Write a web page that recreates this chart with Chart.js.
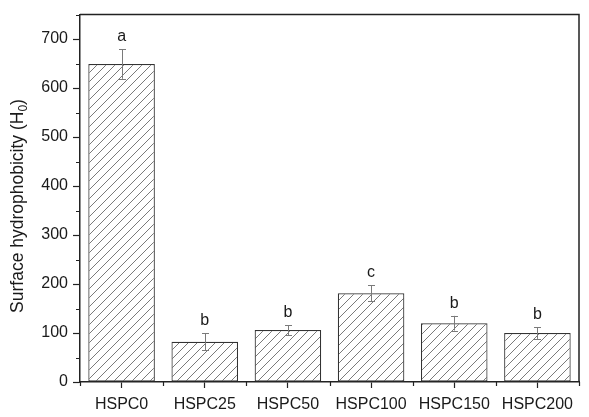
<!DOCTYPE html>
<html><head><meta charset="utf-8">
<script src="https://cdn.jsdelivr.net/npm/chart.js@4/dist/chart.umd.min.js"></script>
<style>html,body{margin:0;padding:0;background:#fff}#wrap{width:589px;height:417px}</style>
</head><body><div id="wrap"><canvas id="c" width="589" height="417"></canvas></div>
<script>
const categories = ['HSPC0', 'HSPC25', 'HSPC50', 'HSPC100', 'HSPC150', 'HSPC200'];
const values = [649, 82, 106, 181, 120, 100];
const errors = [30, 17.5, 10, 16.5, 15, 12];
const letters = ['a', 'b', 'b', 'c', 'b', 'b'];
const yTickValues = [0, 100, 200, 300, 400, 500, 600, 700];
const yMinorValues = [50, 150, 250, 350, 450, 550, 650, 750];
const yTitleMain = 'Surface hydrophobicity (H';
const yTitleSub = '0';
const yTitleEnd = ')';

const FONT = '"Liberation Sans", Arial, Helvetica, sans-serif';
const TEXT = '#1a1a1a';

function makeHatch() {
  const s = 9;
  const t = document.createElement('canvas');
  t.width = s; t.height = s;
  const g = t.getContext('2d');
  g.fillStyle = '#ffffff';
  g.fillRect(0, 0, s, s);
  g.strokeStyle = '#7a7a7a';
  g.lineWidth = 1;
  g.beginPath();
  g.moveTo(-1, s + 1); g.lineTo(s + 1, -1);
  g.moveTo(-2, 2); g.lineTo(2, -2);
  g.moveTo(s - 2, s + 2); g.lineTo(s + 2, s - 2);
  g.stroke();
  return g.createPattern(t, 'repeat');
}

const extras = {
  id: 'extras',
  afterDatasetsDraw(chart) {
    const ctx = chart.ctx;
    const y = chart.scales.y;
    const meta = chart.getDatasetMeta(0);
    ctx.save();
    ctx.strokeStyle = '#7a7a7a';
    ctx.lineWidth = 1;
    meta.data.forEach((bar, i) => {
      const cx = Math.round(bar.x) + 0.5;
      const yt = y.getPixelForValue(values[i] + errors[i]);
      const yb = y.getPixelForValue(values[i] - errors[i]);
      ctx.beginPath();
      ctx.moveTo(cx, yt); ctx.lineTo(cx, yb);
      ctx.moveTo(cx - 3.5, Math.round(yt) + 0.5); ctx.lineTo(cx + 3.5, Math.round(yt) + 0.5);
      ctx.moveTo(cx - 3.5, Math.round(yb) + 0.5); ctx.lineTo(cx + 3.5, Math.round(yb) + 0.5);
      ctx.stroke();
      ctx.fillStyle = TEXT;
      ctx.font = '16px ' + FONT;
      ctx.textAlign = 'center';
      ctx.textBaseline = 'alphabetic';
      ctx.fillText(letters[i], bar.x, yt - 8);
    });
    ctx.restore();
  },
  afterDraw(chart) {
    const ctx = chart.ctx;
    const a = chart.chartArea;
    const y = chart.scales.y;
    ctx.save();
    ctx.strokeStyle = '#222';
    ctx.lineWidth = 1.5;
    ctx.beginPath();
    ctx.moveTo(a.left, a.top); ctx.lineTo(a.right, a.top); ctx.lineTo(a.right, a.bottom);
    ctx.stroke();
    ctx.lineWidth = 1.2;
    ctx.beginPath();
    yMinorValues.forEach(v => {
      const py = Math.round(y.getPixelForValue(v)) + 0.5;
      ctx.moveTo(a.left - 4, py); ctx.lineTo(a.left, py);
    });
    for (let i = 0; i <= categories.length; i++) {
      const px = Math.round(a.left + (a.right - a.left) * i / categories.length) + 0.5;
      ctx.moveTo(px, a.bottom); ctx.lineTo(px, a.bottom + 4);
    }
    ctx.stroke();
    ctx.fillStyle = TEXT;
    ctx.translate(23, 206);
    ctx.rotate(-Math.PI / 2);
    const big = '17.5px ' + FONT, small = '12px ' + FONT;
    ctx.font = big;
    const w1 = ctx.measureText(yTitleMain).width;
    const w3 = ctx.measureText(yTitleEnd).width;
    ctx.font = small;
    const w2 = ctx.measureText(yTitleSub).width;
    let px = -(w1 + w2 + w3) / 2;
    ctx.textAlign = 'left';
    ctx.textBaseline = 'alphabetic';
    ctx.font = big;
    ctx.fillText(yTitleMain, px, 0); px += w1;
    ctx.font = small;
    ctx.fillText(yTitleSub, px, 4); px += w2;
    ctx.font = big;
    ctx.fillText(yTitleEnd, px, 0);
    ctx.restore();
  }
};

new Chart(document.getElementById('c'), {
  type: 'bar',
  data: {
    labels: categories,
    datasets: [{
      data: values,
      backgroundColor: makeHatch(),
      borderColor: '#333333',
      borderWidth: 1.2,
      borderSkipped: false,
      barPercentage: 0.8,
      categoryPercentage: 1.0
    }]
  },
  options: {
    responsive: false,
    animation: false,
    devicePixelRatio: 1,
    layout: { padding: { top: 10, right: 10, left: 0, bottom: 0 } },
    plugins: { legend: { display: false }, tooltip: { enabled: false } },
    scales: {
      x: {
        offset: true,
        grid: { display: true, offset: false, drawOnChartArea: false, tickLength: 6, tickColor: '#222', tickWidth: 1.2 },
        border: { color: '#222', width: 1.5 },
        ticks: { color: TEXT, font: { family: FONT, size: 16 }, padding: 7, maxRotation: 0, autoSkip: false },
        afterFit(s) { s.height = 35; }
      },
      y: {
        min: 0, max: 750,
        afterBuildTicks(s) { s.ticks = yTickValues.map(v => ({ value: v })); },
        grid: { display: true, drawOnChartArea: false, tickLength: 7, tickColor: '#222', tickWidth: 1.2 },
        border: { color: '#222', width: 1.5 },
        ticks: { color: TEXT, font: { family: FONT, size: 16 }, padding: 5 },
        afterFit(s) { s.width = 80; }
      }
    }
  },
  plugins: [extras]
});
</script></body></html>
